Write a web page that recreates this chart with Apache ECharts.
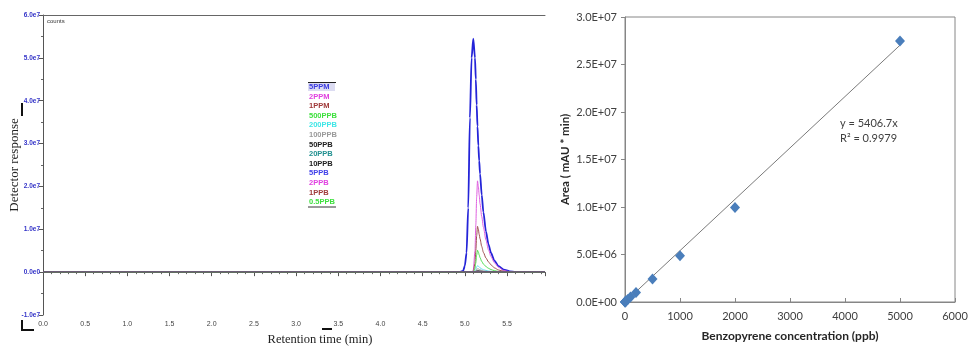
<!DOCTYPE html>
<html>
<head>
<meta charset="utf-8">
<script src="https://cdn.jsdelivr.net/npm/echarts@6/dist/echarts.min.js"></script>
<style>
  html, body { margin: 0; padding: 0; background: #fff; }
  #chart { width: 976px; height: 349px; }
</style>
</head>
<body>
<div id="chart"></div>
<script>
// ---- Chromatograms (detector response, units of 1e7 counts) ----
const retentionTimes = [0, 4.93, 4.98, 5.00, 5.02, 5.04, 5.06, 5.08, 5.10, 5.12, 5.13, 5.14, 5.15, 5.16, 5.17, 5.18, 5.20, 5.22, 5.25, 5.28, 5.31, 5.35, 5.40, 5.46, 5.53, 5.60, 5.95];

const standardNames = ['5PPM', '2PPM', '1PPM', '500PPB', '200PPB', '100PPB', '50PPB', '20PPB', '10PPB', '5PPB', '2PPB', '1PPB', '0.5PPB'];
const textColors = ['#3a3ae0', '#e040e0', '#a03a3a', '#3ee03e', '#3ee6e6', '#9a9a9a', '#202020', '#209090', '#202020', '#4040e8', '#e040e0', '#a03a3a', '#3ee03e'];
const lineColors = ['#2424d8', '#e060e0', '#a05050', '#50dd50', '#60e0f0', '#a0a0a0', '#303030', '#209090', '#303030', '#4040e8', '#e040e0', '#a03a3a', '#3f8a5a'];

const resp5ppm   = [0, 0, 0.03, 0.15, 0.45, 1.5, 3.6, 5.0, 5.45, 5.0, 4.5, 3.9, 3.4, 2.95, 2.6, 2.3, 1.8, 1.4, 0.95, 0.65, 0.45, 0.27, 0.14, 0.06, 0.02, 0, 0];
const resp2ppm   = [0, 0, 0, 0, 0, 0, 0, 0, 0.05, 0.5, 1.1, 1.75, 2.13, 2.0, 1.8, 1.6, 1.3, 1.05, 0.75, 0.52, 0.36, 0.22, 0.11, 0.04, 0.01, 0, 0];
const resp1ppm   = [0, 0, 0, 0, 0, 0, 0, 0, 0, 0.2, 0.5, 0.85, 1.07, 1.0, 0.88, 0.78, 0.6, 0.46, 0.33, 0.24, 0.17, 0.1, 0.05, 0.02, 0, 0, 0];
const resp500ppb = [0, 0, 0, 0, 0, 0, 0, 0, 0, 0.08, 0.22, 0.4, 0.51, 0.47, 0.4, 0.34, 0.25, 0.19, 0.13, 0.09, 0.06, 0.035, 0.015, 0.005, 0, 0, 0];
const resp200ppb = [0, 0, 0, 0, 0, 0, 0, 0, 0, 0.02, 0.06, 0.12, 0.15, 0.14, 0.12, 0.1, 0.075, 0.055, 0.04, 0.027, 0.018, 0.01, 0.005, 0, 0, 0, 0];
const resp100ppb = [0, 0, 0, 0, 0, 0, 0, 0, 0, 0.01, 0.03, 0.06, 0.08, 0.075, 0.065, 0.055, 0.04, 0.03, 0.02, 0.014, 0.009, 0.005, 0.002, 0, 0, 0, 0];
const resp50ppb  = [0, 0, 0, 0, 0, 0, 0, 0, 0, 0, 0.015, 0.03, 0.04, 0.037, 0.032, 0.027, 0.02, 0.015, 0.01, 0.007, 0.004, 0.002, 0, 0, 0, 0, 0];
const resp20ppb  = [0, 0, 0, 0, 0, 0, 0, 0, 0, 0, 0.006, 0.012, 0.016, 0.015, 0.013, 0.011, 0.008, 0.006, 0.004, 0.002, 0.001, 0, 0, 0, 0, 0, 0];
const resp10ppb  = [0, 0, 0, 0, 0, 0, 0, 0, 0, 0, 0.003, 0.006, 0.008, 0.007, 0.006, 0.005, 0.004, 0.003, 0.002, 0.001, 0, 0, 0, 0, 0, 0, 0];
const resp5ppb   = [0, 0, 0, 0, 0, 0, 0, 0, 0, 0, 0.001, 0.003, 0.004, 0.0035, 0.003, 0.0025, 0.002, 0.0015, 0.001, 0, 0, 0, 0, 0, 0, 0, 0];
const resp2ppb   = [0, 0, 0, 0, 0, 0, 0, 0, 0, 0, 0, 0.001, 0.0016, 0.0015, 0.0012, 0.001, 0.0008, 0.0005, 0, 0, 0, 0, 0, 0, 0, 0, 0];
const resp1ppb   = [0, 0, 0, 0, 0, 0, 0, 0, 0, 0, 0, 0.0005, 0.0008, 0.0007, 0.0006, 0.0005, 0.0004, 0.0002, 0, 0, 0, 0, 0, 0, 0, 0, 0];
const resp05ppb  = [0, 0, 0, 0, 0, 0, 0, 0, 0, 0, 0, 0.0002, 0.0004, 0.0004, 0.0003, 0.0002, 0.0002, 0.0001, 0, 0, 0, 0, 0, 0, 0, 0, 0];

const responses = [resp5ppm, resp2ppm, resp1ppm, resp500ppb, resp200ppb, resp100ppb, resp50ppb, resp20ppb, resp10ppb, resp5ppb, resp2ppb, resp1ppb, resp05ppb];

// ---- Calibration curve ----
const concentrations = [0.5, 1, 2, 5, 10, 20, 50, 100, 200, 500, 1000, 2000, 5000];
const peakAreas = [2600, 5300, 10000, 26000, 53000, 105000, 260000, 520000, 1000000, 2420000, 4870000, 9950000, 27470000];
const fitSlope = 5406.7;
const fitR2 = 0.9979;
const fitRange = [0, 5000];

const chromTicks = v => (v === 0 ? '0.0e0' : v.toFixed(1) + 'e7');
const sciTicks = v => {
  if (v === 0) return '0.0E+00';
  const e = Math.floor(Math.log10(v) + 1e-9);
  const m = v / Math.pow(10, e);
  return m.toFixed(1) + 'E+' + String(e).padStart(2, '0');
};

const serif = '"Liberation Serif", "DejaVu Serif", serif';
const narrow = '"Liberation Sans Narrow", "Liberation Sans", sans-serif';
const calib = 'Lato, "Open Sans", sans-serif';

const chromSeries = standardNames.map((name, k) => ({
  name: name,
  type: 'line',
  xAxisIndex: 0,
  yAxisIndex: 0,
  symbol: 'none',
  smooth: 0.25,
  smoothMonotone: 'x',
  lineStyle: { color: lineColors[k], width: k === 0 ? 1.8 : 1 },
  itemStyle: { color: lineColors[k] },
  data: retentionTimes.map((t, i) => [t, responses[k][i]]),
  silent: true,
  z: 3 + k
}));

const chart = echarts.init(document.getElementById('chart'), null, { renderer: 'canvas' });

chart.setOption({
  animation: false,
  backgroundColor: '#ffffff',
  grid: [
    { left: 43, top: 15, right: 431, bottom: 34, outerBoundsMode: 'none', containLabel: false },
    { left: 625, top: 17, right: 21, bottom: 47, outerBoundsMode: 'none', containLabel: false, show: true, borderColor: '#868686', borderWidth: 1 }
  ],
  legend: {
    data: standardNames.map((n, k) => ({ name: n, textStyle: { color: textColors[k] } })),
    orient: 'vertical',
    left: 304,
    top: 83,
    padding: 0,
    icon: 'rect',
    itemWidth: 0,
    itemHeight: 8,
    itemGap: 1.6,
    selectedMode: false,
    itemStyle: { opacity: 0 },
    lineStyle: { opacity: 0 },
    textStyle: { fontFamily: narrow, fontSize: 7.5, fontWeight: 'bold', lineHeight: 8 }
  },
  xAxis: [
    {
      gridIndex: 0, type: 'value', min: 0, max: 5.95, interval: 0.5,
      axisLine: { lineStyle: { color: '#555', width: 1 } },
      axisTick: { length: 4, lineStyle: { color: '#555' } },
      minorTick: { show: true, splitNumber: 5, length: 2, lineStyle: { color: '#666' } },
      splitLine: { show: false },
      axisLabel: { formatter: v => v.toFixed(1), fontSize: 7, color: '#444', fontFamily: narrow, margin: 6, showMaxLabel: false },
      name: 'Retention time (min)', nameLocation: 'middle', nameGap: 18,
      nameTextStyle: { fontFamily: serif, fontSize: 12.5, color: '#222', padding: [0, 0, 0, 52] }
    },
    {
      gridIndex: 0, type: 'value', min: 0, max: 5.95, position: 'top',
      axisLine: { show: true, lineStyle: { color: '#666', width: 1 } },
      axisTick: { show: false }, axisLabel: { show: false }, splitLine: { show: false }
    },
    {
      gridIndex: 1, type: 'value', min: 0, max: 6000, interval: 1000,
      axisLine: { lineStyle: { color: '#868686' } },
      axisTick: { inside: true, length: 4, lineStyle: { color: '#868686' } },
      splitLine: { show: false },
      axisLabel: { formatter: v => String(v), fontSize: 11, color: '#404040', fontFamily: calib, margin: 9 },
      name: 'Benzopyrene concentration (ppb)', nameLocation: 'middle', nameGap: 28,
      nameTextStyle: { fontFamily: calib, fontSize: 12, fontWeight: 'bold', color: '#262626' }
    }
  ],
  yAxis: [
    {
      gridIndex: 0, type: 'value', min: -1, max: 6, interval: 1,
      axisLine: { show: true, lineStyle: { color: '#555', width: 1 } },
      axisTick: { show: true, length: 4, lineStyle: { color: '#555' } },
      minorTick: { show: true, splitNumber: 2, length: 2, lineStyle: { color: '#666' } },
      splitLine: { show: false },
      axisLabel: { formatter: chromTicks, fontSize: 6.5, color: '#3434c8', fontFamily: narrow, fontWeight: 'bold', margin: 3 },
      name: 'Detector response', nameLocation: 'middle', nameGap: 22, nameMoveOverlap: false,
      nameTextStyle: { fontFamily: serif, fontSize: 13, color: '#222' }
    },
    {
      gridIndex: 1, type: 'value', min: 0, max: 30000000, interval: 5000000,
      axisLine: { show: true, lineStyle: { color: '#868686' } },
      axisTick: { show: true, length: 4, lineStyle: { color: '#868686' } },
      splitLine: { show: false },
      axisLabel: { formatter: sciTicks, fontSize: 11, color: '#404040', fontFamily: calib, margin: 8 },
      name: 'Area ( mAU * min)', nameLocation: 'middle', nameGap: 54,
      nameTextStyle: { fontFamily: calib, fontSize: 11.5, fontWeight: 'bold', color: '#262626' }
    }
  ],
  graphic: [
    // legend frame and highlighted first entry
    { type: 'rect', left: 308, top: 83, shape: { width: 27, height: 8 }, style: { fill: '#dcdcf2' }, z: -1, silent: true },
    { type: 'line', shape: { x1: 308, y1: 82.5, x2: 336, y2: 82.5 }, style: { stroke: '#222', lineWidth: 1 }, silent: true },
    { type: 'line', shape: { x1: 308, y1: 207, x2: 336, y2: 207 }, style: { stroke: '#9a9a9a', lineWidth: 2 }, silent: true },
    // plot caption
    { type: 'text', left: 47, top: 18, style: { text: 'counts', fontSize: 6, fontFamily: narrow, fill: '#333' }, silent: true },
    // small scan marks along the left panel
    { type: 'line', shape: { x1: 22, y1: 103, x2: 22, y2: 116 }, style: { stroke: '#111', lineWidth: 2 }, silent: true },
    { type: 'polyline', shape: { points: [[22, 320], [22, 330], [34, 330]] }, style: { stroke: '#111', lineWidth: 2, fill: null }, silent: true },
    { type: 'line', shape: { x1: 322, y1: 329, x2: 332, y2: 329 }, style: { stroke: '#111', lineWidth: 2 }, silent: true },
    // fit equation
    { type: 'text', left: 840, top: 118, style: { text: 'y = ' + fitSlope + 'x', fontSize: 11, fontFamily: calib, fill: '#404040' }, silent: true },
    { type: 'text', left: 840, top: 133, style: { text: 'R\u00b2 = ' + fitR2, fontSize: 11, fontFamily: calib, fill: '#404040' }, silent: true }
  ],
  series: chromSeries.concat([
    {
      name: 'Linear fit',
      type: 'line',
      xAxisIndex: 2,
      yAxisIndex: 1,
      symbol: 'none',
      lineStyle: { color: '#7a7a7a', width: 1 },
      data: fitRange.map(x => [x, fitSlope * x]),
      silent: true,
      z: 2
    },
    {
      name: 'Calibration',
      type: 'scatter',
      xAxisIndex: 2,
      yAxisIndex: 1,
      symbol: 'diamond',
      symbolSize: [10, 11],
      itemStyle: { color: '#4a7ebb', opacity: 1 },
      data: concentrations.map((c, i) => [c, peakAreas[i]]),
      silent: true,
      z: 3
    }
  ])
});
</script>
</body>
</html>
